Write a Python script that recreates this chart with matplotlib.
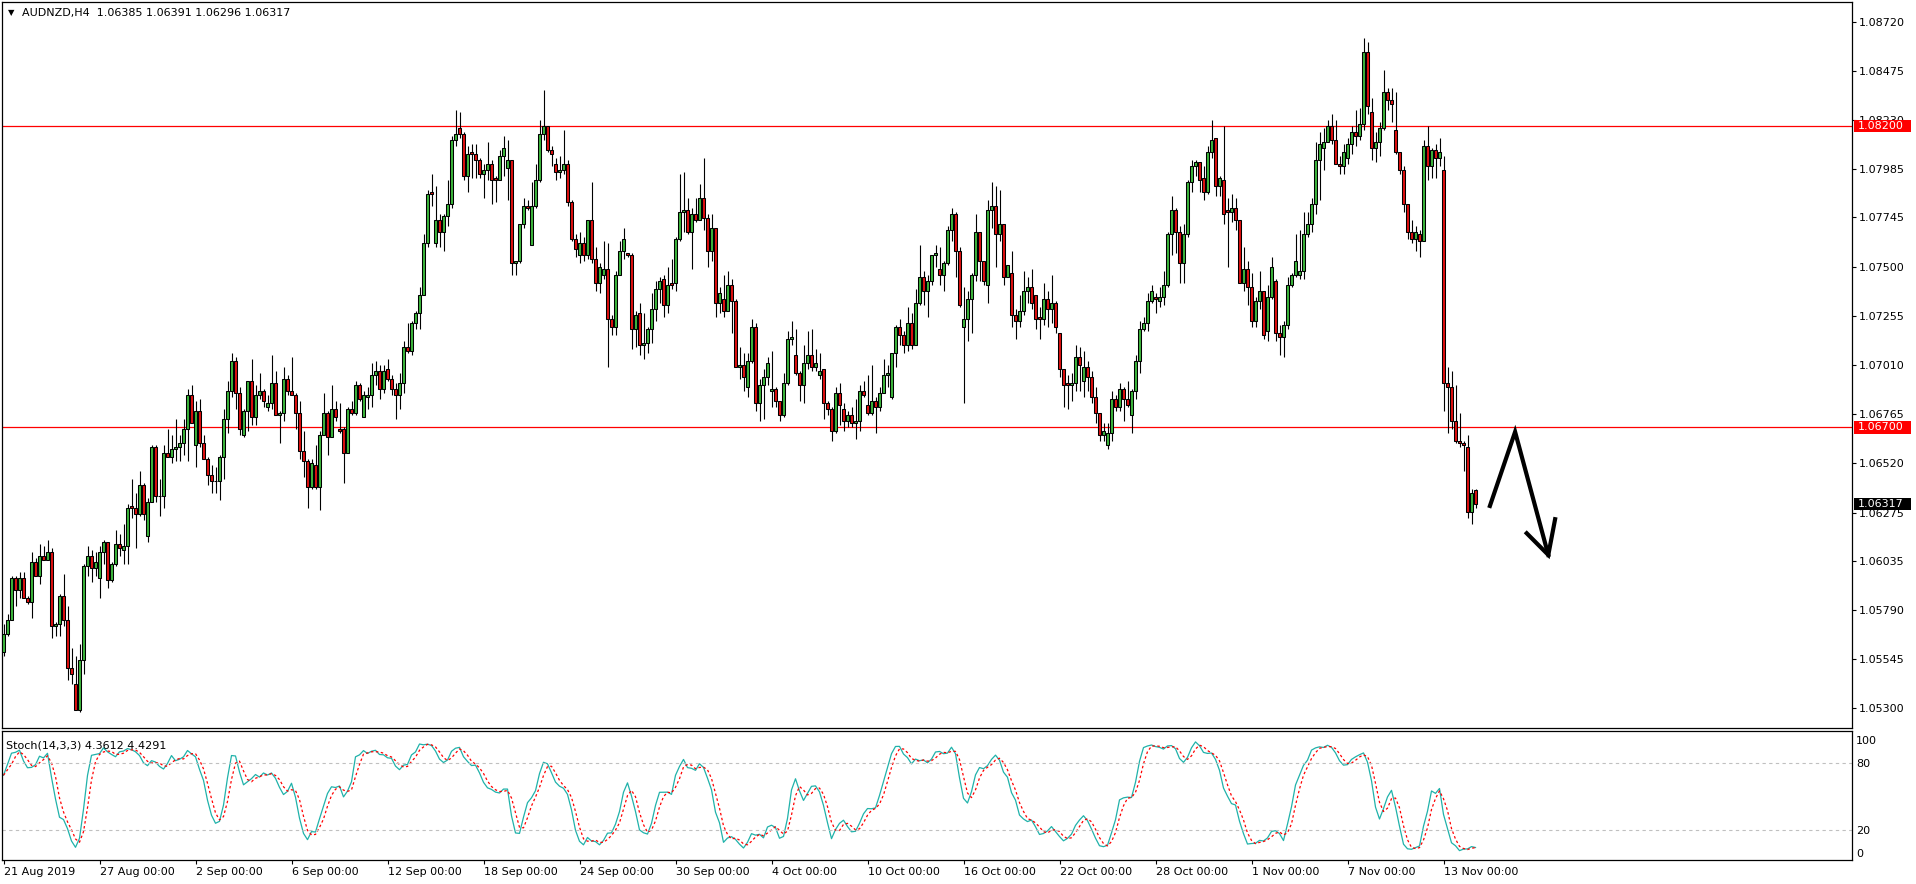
import numpy as np
import pandas as pd
import matplotlib
matplotlib.use("Agg")
import matplotlib.pyplot as plt
import matplotlib.transforms as mtransforms
from matplotlib.patches import Rectangle

# AUDNZD H4 candles, prices in units of 0.0001
open_pips = [
    10558, 10567, 10574, 10595, 10589, 10595, 10585, 10583, 10603, 10596,
    10606, 10604, 10608, 10571, 10572, 10586, 10574, 10550, 10542, 10529,
    10554, 10601, 10606, 10600, 10595, 10608, 10613, 10594, 10602, 10612,
    10609, 10611, 10631, 10630, 10627, 10641, 10616, 10633, 10660, 10636,
    10636, 10657, 10655, 10659, 10660, 10662, 10669, 10686, 10661, 10678,
    10662, 10654, 10646, 10643, 10643, 10655, 10674, 10688, 10703, 10687,
    10666, 10678, 10693, 10675, 10686, 10688, 10680, 10682, 10692, 10676,
    10677, 10694, 10688, 10686, 10677, 10658, 10653, 10640, 10651, 10640,
    10666, 10677, 10665, 10679, 10669, 10669, 10657, 10679, 10677, 10691,
    10675, 10685, 10686, 10696, 10698, 10689, 10699, 10694, 10689, 10686,
    10692, 10710, 10708, 10722, 10727, 10736, 10762, 10787, 10762, 10773,
    10767, 10775, 10781, 10813, 10819, 10816, 10795, 10807, 10806, 10803,
    10796, 10798, 10801, 10794, 10793, 10805, 10799, 10803, 10752, 10753,
    10771, 10780, 10761, 10780, 10793, 10816, 10820, 10808, 10801, 10797,
    10798, 10801, 10782, 10764, 10756, 10762, 10756, 10773, 10754, 10742,
    10746, 10749, 10724, 10720, 10746, 10758, 10757, 10756, 10719, 10727,
    10711, 10712, 10719, 10729, 10739, 10744, 10731, 10742, 10742, 10764,
    10777, 10778, 10767, 10776, 10773,
    10784, 10774, 10758, 10769, 10732, 10734, 10728, 10741, 10733, 10700,
    10701, 10690, 10703, 10720, 10682, 10691, 10695, 10688, 10689, 10683,
    10676, 10692, 10714, 10706, 10697, 10691, 10702, 10706, 10700, 10696,
    10699, 10682, 10679, 10668, 10687, 10679, 10673, 10676, 10672, 10673,
    10688, 10681, 10677, 10683, 10680, 10687, 10696, 10685, 10707, 10720,
    10716, 10711, 10722, 10711, 10732, 10745, 10738, 10743, 10756, 10749,
    10746, 10752, 10768, 10776, 10758, 10720, 10724, 10734, 10746, 10767,
    10753, 10741, 10778, 10780,
    10766, 10771, 10745, 10747, 10726, 10723, 10728, 10738, 10740, 10736,
    10725, 10724, 10734, 10729, 10732, 10717, 10699, 10692, 10691, 10692,
    10705, 10693, 10700, 10695, 10685, 10677, 10666, 10661, 10667, 10684,
    10680, 10689, 10684, 10676, 10688, 10703, 10719, 10722, 10733, 10735,
    10733, 10735, 10741, 10766, 10778, 10767, 10752, 10766, 10792, 10800,
    10802, 10794, 10787, 10807, 10814, 10790, 10793, 10778, 10777, 10779,
    10773, 10742, 10749, 10740, 10723, 10733, 10738, 10718, 10735, 10743,
    10717, 10715, 10721,
    10741, 10746, 10746, 10748, 10766, 10771, 10781, 10803, 10809, 10812,
    10820, 10813, 10801, 10800, 10804, 10811, 10817, 10815, 10821, 10857,
    10827, 10809, 10812, 10819, 10837, 10833, 10818, 10807, 10798, 10781,
    10767, 10764, 10766, 10763, 10810, 10800, 10808, 10804, 10798, 10692,
    10690, 10673, 10663, 10662, 10660, 10628, 10638.5,
]

high_pips = [
    10572, 10577, 10596, 10596, 10598, 10598, 10586, 10608, 10605, 10612,
    10611, 10614, 10610, 10573, 10587, 10597, 10581, 10560, 10556, 10562,
    10602, 10611, 10609, 10608, 10611, 10614, 10613, 10603, 10619, 10617,
    10622, 10632, 10644, 10637, 10648, 10642, 10635, 10661, 10661, 10644,
    10661, 10669, 10666, 10674, 10666, 10674, 10689, 10691, 10683, 10684,
    10666, 10655, 10651, 10650, 10656, 10679, 10693, 10707, 10705, 10690,
    10679, 10693, 10704, 10691, 10697, 10689, 10686, 10706, 10698, 10678,
    10700, 10696, 10705, 10687, 10683, 10668, 10654, 10654, 10661, 10668,
    10687, 10678, 10691, 10683, 10682, 10670, 10680, 10683, 10693, 10692,
    10688, 10690, 10702, 10703, 10701, 10701, 10704, 10696, 10692, 10697,
    10713, 10722, 10723, 10728, 10740, 10766, 10788, 10796, 10790, 10776,
    10776, 10793, 10815, 10828, 10827, 10817, 10810, 10811, 10811, 10804,
    10801, 10812, 10803, 10795, 10808, 10815, 10813, 10803, 10753, 10771,
    10784, 10783, 10792, 10801, 10823, 10838, 10820, 10810, 10804, 10805,
    10818, 10803, 10783, 10766, 10767, 10765, 10773, 10792, 10760, 10752,
    10763, 10762, 10726, 10748, 10763, 10769, 10757, 10757, 10728, 10732,
    10727, 10720, 10737, 10743, 10745, 10746, 10750, 10754, 10765, 10796,
    10797, 10784, 10779, 10784, 10791,
    10804, 10776, 10776, 10769, 10740, 10746, 10748, 10744, 10734, 10710,
    10707, 10707, 10724, 10722, 10694, 10699, 10705, 10708, 10690, 10683,
    10697, 10718, 10723, 10719, 10698, 10711, 10718, 10719, 10709, 10707,
    10699, 10683, 10680, 10690, 10692, 10682, 10678, 10680, 10684, 10691,
    10693, 10696, 10701, 10685, 10690, 10704, 10701, 10707, 10721, 10724,
    10718, 10730, 10727, 10739, 10761, 10748, 10746, 10756, 10761, 10760,
    10753, 10770, 10779, 10777, 10760, 10740, 10738, 10747, 10776, 10767,
    10753, 10783, 10792, 10790,
    10788, 10771, 10751, 10758, 10729, 10736, 10748, 10745, 10749, 10736,
    10730, 10742, 10738, 10746, 10733, 10717, 10699, 10696, 10697, 10711,
    10710, 10708, 10703, 10698, 10690, 10677, 10672, 10672, 10688, 10686,
    10692, 10690, 10693, 10689, 10706, 10723, 10725, 10737, 10741, 10737,
    10740, 10748, 10767, 10785, 10779, 10770, 10771, 10793, 10803, 10803,
    10802, 10800, 10810, 10823, 10814, 10795, 10820, 10784, 10786, 10784,
    10773, 10760, 10753, 10747, 10735, 10748, 10738, 10741, 10755, 10744,
    10721, 10723, 10745,
    10747, 10766, 10768, 10777, 10777, 10784, 10812, 10817, 10819, 10823,
    10826, 10823, 10805, 10811, 10814, 10820, 10828, 10829, 10864, 10862,
    10834, 10817, 10822, 10848, 10839, 10839, 10837, 10807, 10800, 10781,
    10773, 10770, 10768, 10813, 10820, 10809, 10811, 10814, 10805, 10700,
    10698, 10691, 10677, 10663, 10666, 10639, 10639.1,
]

low_pips = [
    10556, 10566, 10574, 10581, 10585, 10585, 10582, 10575, 10596, 10592,
    10604, 10604, 10565, 10566, 10566, 10571, 10544, 10542, 10529, 10528,
    10547, 10596, 10593, 10596, 10585, 10602, 10590, 10593, 10601, 10606,
    10602, 10602, 10625, 10610, 10626, 10624, 10613, 10633, 10633, 10626,
    10630, 10655, 10652, 10653, 10653, 10656, 10653, 10672, 10650, 10660,
    10654, 10641, 10637, 10637, 10634, 10644, 10667, 10685, 10679, 10666,
    10665, 10668, 10671, 10671, 10684, 10680, 10678, 10679, 10676, 10662,
    10673, 10686, 10686, 10669, 10654, 10645, 10630, 10639, 10639, 10629,
    10666, 10656, 10665, 10673, 10667, 10642, 10657, 10676, 10676, 10683,
    10675, 10679, 10680, 10691, 10684, 10687, 10693, 10686, 10674, 10679,
    10687, 10707, 10706, 10719, 10719, 10736, 10760, 10780, 10760, 10760,
    10758, 10770, 10779, 10810, 10814, 10793, 10787, 10794, 10794, 10794,
    10784, 10793, 10781, 10782, 10793, 10795, 10783, 10746, 10746, 10752,
    10769, 10778, 10761, 10779, 10792, 10813, 10807, 10800, 10793, 10794,
    10796, 10780, 10763, 10755, 10752, 10753, 10754, 10752, 10738, 10737,
    10744, 10700, 10716, 10716, 10746, 10754, 10755, 10709, 10710, 10706,
    10704, 10707, 10712, 10723, 10732, 10725, 10727, 10739, 10738, 10763,
    10767, 10766, 10749, 10772, 10773,
    10768, 10750, 10753, 10725, 10727, 10725, 10728, 10717, 10700, 10694,
    10688, 10685, 10702, 10678, 10673, 10674, 10691, 10680, 10680, 10673,
    10675, 10691, 10711, 10696, 10683, 10682, 10699, 10698, 10698, 10694,
    10674, 10676, 10663, 10667, 10671, 10668, 10670, 10670, 10664, 10668,
    10685, 10676, 10676, 10667, 10678, 10687, 10690, 10684, 10700, 10711,
    10707, 10708, 10709, 10711, 10731, 10731, 10725, 10741, 10750, 10741,
    10738, 10751, 10763, 10745, 10730, 10682, 10713, 10717, 10743, 10743,
    10741, 10732, 10769, 10750,
    10763, 10741, 10745, 10720, 10714, 10720, 10726, 10732, 10729, 10719,
    10714, 10721, 10720, 10722, 10717, 10695, 10680, 10679, 10683, 10688,
    10688, 10685, 10688, 10682, 10672, 10663, 10663, 10659, 10663, 10678,
    10678, 10673, 10680, 10667, 10684, 10697, 10718, 10718, 10732, 10727,
    10730, 10731, 10740, 10756, 10757, 10742, 10742, 10765, 10787, 10795,
    10787, 10783, 10786, 10804, 10785, 10785, 10771, 10750, 10772, 10768,
    10742, 10738, 10731, 10720, 10720, 10729, 10714, 10713, 10734, 10713,
    10706, 10705, 10719,
    10740, 10745, 10744, 10744, 10765, 10767, 10776, 10783, 10798, 10812,
    10811, 10801, 10796, 10796, 10801, 10806, 10810, 10813, 10818, 10826,
    10803, 10802, 10805, 10818, 10828, 10822, 10806, 10796, 10777, 10764,
    10762, 10758, 10755, 10763, 10793, 10794, 10794, 10800, 10678, 10667,
    10669, 10662, 10660, 10648, 10625, 10622, 10629.6,
]

close_pips = [
    10567, 10574, 10595, 10589, 10595, 10585, 10583, 10603, 10596, 10606,
    10604, 10608, 10571, 10572, 10586, 10574, 10550, 10547, 10529, 10554,
    10601, 10606, 10600, 10603, 10608, 10613, 10594, 10602, 10612, 10610,
    10611, 10630, 10630, 10627, 10641, 10627, 10633, 10660, 10636, 10636,
    10657, 10655, 10659, 10660, 10662, 10669, 10686, 10672, 10678, 10662,
    10654, 10646, 10643, 10643, 10655, 10674, 10688, 10703, 10687, 10669,
    10678, 10693, 10675, 10686, 10688, 10683, 10682, 10692, 10676, 10677,
    10694, 10688, 10686, 10677, 10658, 10653, 10640, 10652, 10640, 10666,
    10677, 10665, 10679, 10675, 10668, 10657, 10679, 10677, 10691, 10684,
    10686, 10686, 10696, 10698, 10689, 10698, 10694, 10689, 10686, 10692,
    10710, 10708, 10722, 10727, 10736, 10762, 10786, 10786, 10773, 10767,
    10775, 10781, 10813, 10816, 10816, 10795, 10806, 10806, 10803, 10796,
    10798, 10801, 10793, 10793, 10805, 10809, 10803, 10752, 10753, 10771,
    10780, 10779, 10780, 10793, 10816, 10820, 10808, 10806, 10797, 10798,
    10801, 10782, 10764, 10759, 10762, 10756, 10773, 10754, 10742, 10750,
    10749, 10724, 10720, 10746, 10758, 10764, 10756, 10719, 10726, 10711,
    10712, 10719, 10729, 10739, 10743, 10731, 10741, 10741, 10764, 10777,
    10778, 10767, 10776, 10773, 10784,
    10774, 10758, 10769, 10732, 10737, 10728, 10741, 10733, 10700, 10701,
    10695, 10703, 10720, 10682, 10691, 10695, 10702, 10689, 10683, 10676,
    10692, 10714, 10715, 10697, 10691, 10702, 10706, 10700, 10702, 10698,
    10682, 10679, 10668, 10687, 10681, 10673, 10676, 10672, 10673, 10688,
    10686, 10677, 10683, 10680, 10687, 10696, 10697, 10707, 10720, 10716,
    10711, 10722, 10711, 10732, 10745, 10738, 10743, 10756, 10757, 10746,
    10752, 10768, 10776, 10758, 10731, 10724, 10734, 10746, 10767, 10753,
    10743, 10778, 10780, 10766,
    10771, 10745, 10751, 10726, 10723, 10728, 10738, 10740, 10732, 10724,
    10724, 10734, 10729, 10732, 10720, 10699, 10691, 10691, 10692, 10705,
    10701, 10700, 10695, 10685, 10677, 10666, 10668, 10667, 10684, 10680,
    10689, 10684, 10681, 10688, 10703, 10719, 10722, 10733, 10738, 10734,
    10735, 10741, 10766, 10778, 10767, 10752, 10766, 10792, 10800, 10802,
    10793, 10787, 10807, 10813, 10790, 10794, 10776, 10777, 10779, 10773,
    10742, 10749, 10740, 10723, 10733, 10738, 10716, 10735, 10750, 10717,
    10715, 10721, 10741,
    10746, 10753, 10748, 10766, 10771, 10781, 10803, 10811, 10812, 10820,
    10813, 10801, 10800, 10807, 10811, 10817, 10815, 10821, 10857, 10830,
    10809, 10812, 10819, 10837, 10833, 10831, 10807, 10798, 10781, 10767,
    10764, 10767, 10763, 10810, 10800, 10808, 10804, 10807, 10692, 10690,
    10673, 10663, 10662, 10661, 10628, 10637, 10631.7,
]

# x axis labels every 24 bars
date_labels = ['21 Aug 2019', '27 Aug 00:00', '2 Sep 00:00', '6 Sep 00:00',
               '12 Sep 00:00', '18 Sep 00:00', '24 Sep 00:00', '30 Sep 00:00',
               '4 Oct 00:00', '10 Oct 00:00', '16 Oct 00:00', '22 Oct 00:00',
               '28 Oct 00:00', '1 Nov 00:00', '7 Nov 00:00', '13 Nov 00:00']
price_ticks = [1.05300, 1.05545, 1.05790, 1.06035, 1.06275, 1.06520, 1.06765,
               1.07010, 1.07255, 1.07500, 1.07745, 1.07985, 1.08230, 1.08475,
               1.08720]
level_lines = [1.08200, 1.06700]
last_price = 1.06317

# hand drawn arrow (bar index, price)
arrow_path_x = [371.6, 377.9, 386.2]
arrow_path_y = [1.06308, 1.06677, 1.06064]
arrow_head_x = [380.8, 386.2, 387.9]
arrow_head_y = [1.06172, 1.06064, 1.06242]

assert len(open_pips) == len(high_pips) == len(low_pips) == len(close_pips)

o = np.array(open_pips) / 10000
c = np.array(close_pips) / 10000
h = np.maximum.reduce([np.array(high_pips) / 10000, o, c])
l = np.minimum.reduce([np.array(low_pips) / 10000, o, c])
x = np.arange(len(c))

# Stochastic(14,3,3) as MT4 computes it
cs, hs, ls = pd.Series(c), pd.Series(h), pd.Series(l)
ll = ls.rolling(14, min_periods=1).min()
hh = hs.rolling(14, min_periods=1).max()
k = 100 * (cs - ll).rolling(3, min_periods=1).sum() / (hh - ll).rolling(3, min_periods=1).sum()
d = k.rolling(3, min_periods=1).mean()

W, H = 1916, 884
plt.rcParams['font.family'] = 'DejaVu Sans'
fig = plt.figure(figsize=(W / 100, H / 100), dpi=100)
fig.patch.set_facecolor('white')

ax = fig.add_axes([2 / W, (H - 728) / H, 1850 / W, 726 / H])
ax2 = fig.add_axes([2 / W, (H - 860) / H, 1850 / W, 129 / H])

xmin, xmax = -0.375, 462.125
ymin, ymax = 1.05202, 1.08818

green, red = '#3cb43c', '#dd1010'
up = c >= o
ax.vlines(x, l, h, color='black', lw=0.8, zorder=2)
ax.bar(x, np.abs(c - o), bottom=np.minimum(o, c), width=0.55,
       color=np.where(up, green, red), edgecolor='black', linewidth=0.75, zorder=3)

for lv in level_lines:
    ax.axhline(lv, color='red', lw=0.9, zorder=1)

ax.plot(arrow_path_x, arrow_path_y, color='black', lw=3, solid_joinstyle='miter', zorder=4)
ax.plot(arrow_head_x, arrow_head_y, color='black', lw=3, solid_joinstyle='miter', zorder=4)

ax.set_xlim(xmin, xmax)
ax.set_ylim(ymin, ymax)
ax.set_xticks([])
ax.yaxis.tick_right()
ax.set_yticks(price_ticks)
ax.set_yticklabels(['%.5f' % t for t in price_ticks])
ax.tick_params(axis='y', direction='out', length=3, width=0.8, pad=2, labelsize=8)
for sp in ax.spines.values():
    sp.set_linewidth(0.9)
    sp.set_color('black')

# right side price boxes
trans = mtransforms.blended_transform_factory(ax.transAxes, ax.transData)
box_h = 12.7 * (ymax - ymin) / 726
for p, fc in [(1.08200, 'red'), (1.06700, 'red'), (last_price, 'black')]:
    ax.add_patch(Rectangle((1 + 2 / 1850, p - box_h / 2), 57 / 1850, box_h,
                           transform=trans, facecolor=fc, edgecolor='none',
                           clip_on=False, zorder=5))
    ax.text(1 + 6 / 1850, p, '%.5f' % p, transform=trans, color='white',
            fontsize=8, ha='left', va='center', clip_on=False, zorder=6)

# stochastic panel
ax2.plot(x, k, color='#20b2aa', lw=0.9)
ax2.plot(x, d, color='red', lw=0.9, linestyle=(0, (2, 2)))
for lv in [20, 80]:
    ax2.axhline(lv, color='#c0c0c0', lw=0.8, linestyle=(0, (3, 3)))
ax2.set_xlim(xmin, xmax)
ax2.set_ylim(-6.4, 108)
ax2.yaxis.tick_right()
ax2.set_yticks([0, 20, 80, 100])
ax2.set_yticklabels(['0', '20', '80', '100'])
ax2.tick_params(axis='y', length=0, pad=3, labelsize=8)
ax2.set_xticks(np.arange(len(date_labels)) * 24)
ax2.set_xticklabels(date_labels)
ax2.tick_params(axis='x', direction='out', length=3, width=0.8, pad=2, labelsize=8)
for lab in ax2.get_xticklabels():
    lab.set_horizontalalignment('left')
for sp in ax2.spines.values():
    sp.set_linewidth(0.9)
    sp.set_color('black')

fig.text(11 / W, 1 - 13 / H, '\u25bc', fontsize=6, ha='center', va='center')
fig.text(22 / W, 1 - 13 / H, 'AUDNZD,H4  1.06385 1.06391 1.06296 1.06317',
         fontsize=8, ha='left', va='center')
fig.text(6 / W, 1 - 745 / H, 'Stoch(14,3,3) 4.3612 4.4291',
         fontsize=8, ha='left', va='center')

fig.savefig('out.png', dpi=100, facecolor='white')
